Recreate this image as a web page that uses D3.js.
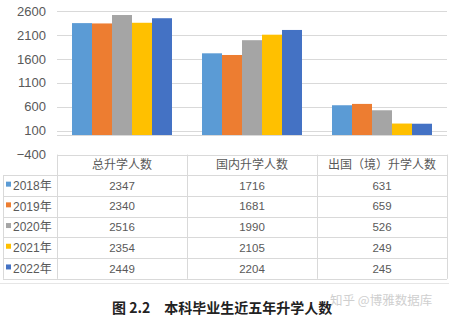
<!DOCTYPE html>
<html>
<head>
<meta charset="utf-8">
<script src="https://cdn.jsdelivr.net/npm/d3@7"></script>
<style>
  body { margin: 0; background: #fff; }
  svg text { font-family: "Liberation Sans", "Noto Sans CJK SC", sans-serif; }
</style>
</head>
<body>
<script>
'use strict';

// chart data
const categories = ["总升学人数", "国内升学人数", "出国（境）升学人数"];
const years = ["2018年", "2019年", "2020年", "2021年", "2022年"];
const v2018 = [2347, 1716, 631];
const v2019 = [2340, 1681, 659];
const v2020 = [2516, 1990, 526];
const v2021 = [2354, 2105, 249];
const v2022 = [2449, 2204, 245];
const yTicks = [-400, 100, 600, 1100, 1600, 2100, 2600];
const caption = "图 2.2　本科毕业生近五年升学人数";
const watermark = "知乎 @博雅数据库";

const series = [v2018, v2019, v2020, v2021, v2022];
const colors = ["#5B9BD5", "#ED7D31", "#A5A5A5", "#FFC000", "#4472C4"];

const width = 449, height = 320;
const plot = { left: 57, right: 447, top: 11, bottom: 154.6 };
const rowH = 20.7;
const tableTop = 154.6;

const svg = d3.select('body').append('svg')
  .attr('width', width)
  .attr('height', height);

const x = d3.scaleBand()
  .domain(categories)
  .range([plot.left, plot.right]);

const xInner = d3.scaleBand()
  .domain(years)
  .range([0, 100]);

const y = d3.scaleLinear()
  .domain([-400, 2600])
  .range([plot.bottom, plot.top]);

// gridlines
svg.append('g')
  .selectAll('line')
  .data(yTicks.filter(d => d > -400))
  .enter().append('line')
  .attr('x1', plot.left).attr('x2', plot.right)
  .attr('y1', d => Math.round(y(d)) + 0.5).attr('y2', d => Math.round(y(d)) + 0.5)
  .attr('stroke', '#d9d9d9');

// y axis labels
const yAxis = d3.axisLeft(y).tickValues(yTicks).tickFormat(d3.format('d')).tickSize(0).tickPadding(0);
const ga = svg.append('g')
  .attr('transform', 'translate(46,0)')
  .call(yAxis);
ga.select('.domain').remove();
ga.selectAll('text')
  .attr('fill', '#595959')
  .style('font-size', '13px');

// bars
const groups = svg.append('g').selectAll('g')
  .data(categories)
  .enter().append('g')
  .attr('transform', d => 'translate(' + (x(d) + (x.bandwidth() - 100) / 2) + ',0)');

groups.selectAll('rect')
  .data((d, i) => series.map((s, k) => ({ year: years[k], value: s[i], color: colors[k] })))
  .enter().append('rect')
  .attr('x', d => xInner(d.year))
  .attr('width', xInner.bandwidth())
  .attr('y', d => y(d.value))
  .attr('height', d => y(0) - y(d.value))
  .attr('fill', d => d.color);

// zero line
svg.append('line')
  .attr('x1', plot.left).attr('x2', plot.right)
  .attr('y1', Math.round(y(0)) + 0.5).attr('y2', Math.round(y(0)) + 0.5)
  .attr('stroke', '#d9d9d9');

// data table
const table = svg.append('g');
const lineColor = '#d9d9d9';
const nRows = years.length;
const tableBottom = tableTop + rowH * (nRows + 1);

// horizontal lines
d3.range(nRows + 2).forEach(r => {
  const yy = Math.round(tableTop + r * rowH) + 0.5;
  table.append('line')
    .attr('x1', r === 0 ? plot.left : 3).attr('x2', plot.right)
    .attr('y1', yy).attr('y2', yy)
    .attr('stroke', lineColor);
});
// vertical lines
table.append('line')
  .attr('x1', 3.5).attr('x2', 3.5)
  .attr('y1', tableTop + rowH).attr('y2', tableBottom)
  .attr('stroke', lineColor);
categories.concat(['end']).forEach((c, i) => {
  const xx = Math.round(i < categories.length ? x(c) : plot.right) + 0.5;
  table.append('line')
    .attr('x1', xx).attr('x2', xx)
    .attr('y1', tableTop).attr('y2', tableBottom)
    .attr('stroke', lineColor);
});

// header
table.selectAll('.hdr')
  .data(categories)
  .enter().append('text')
  .attr('x', d => x(d) + x.bandwidth() / 2)
  .attr('y', tableTop + rowH / 2)
  .attr('dy', '0.36em')
  .attr('text-anchor', 'middle')
  .attr('fill', '#595959')
  .style('font-size', '12px')
  .text(d => d);

// rows
years.forEach((yr, k) => {
  const cy = tableTop + rowH * (k + 1) + rowH / 2;
  table.append('rect')
    .attr('x', 6).attr('y', cy - 4)
    .attr('width', 5).attr('height', 5)
    .attr('fill', colors[k]);
  table.append('text')
    .attr('x', 13).attr('y', cy)
    .attr('dy', '0.36em')
    .attr('fill', '#595959')
    .style('font-size', '12px')
    .text(yr);
  categories.forEach((c, i) => {
    table.append('text')
      .attr('x', x(c) + x.bandwidth() / 2)
      .attr('y', cy)
      .attr('dy', '0.36em')
      .attr('text-anchor', 'middle')
      .attr('fill', '#595959')
      .style('font-size', '11.5px')
      .text(series[k][i]);
  });
});

// separator
svg.append('line')
  .attr('x1', 0).attr('x2', width)
  .attr('y1', 283.5).attr('y2', 283.5)
  .attr('stroke', '#e6e6e6');

// caption
svg.append('text')
  .attr('x', 112).attr('y', 313)
  .attr('fill', '#222')
  .style('font-size', '14px')
  .style('font-weight', 'bold')
  .style('font-family', '"Noto Sans CJK SC", sans-serif')
  .text(caption);

svg.append('text')
  .attr('x', 330).attr('y', 305)
  .attr('fill', '#cfcfcf')
  .style('font-size', '12.5px')
  .style('font-family', '"Noto Sans CJK SC", sans-serif')
  .text(watermark);
</script>
</body>
</html>
